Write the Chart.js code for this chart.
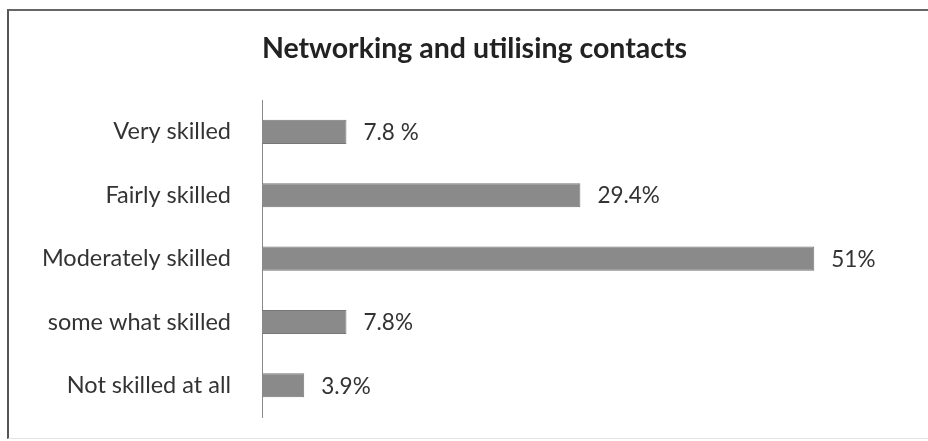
<!DOCTYPE html>
<html>
<head>
<meta charset="utf-8">
<script src="https://cdn.jsdelivr.net/npm/chart.js@4/dist/chart.umd.min.js"></script>
<style>
  html, body { margin: 0; padding: 0; background: #fff; }
  #wrap {
    position: relative;
    width: 928px;
    height: 441px;
  }
  /* frame round the chart: only the left and top edges show strongly */
  #frame {
    position: absolute;
    left: 7px; top: 9px; right: 0; bottom: 2px;
    border-left: 2px solid #555;
    border-top: 2px solid #666;
    border-bottom: 1px solid #e4e4e4;
    pointer-events: none;
  }
  canvas { position: absolute; left: 0; top: 0; }
</style>
</head>
<body>
<div id="wrap">
  <canvas id="chart-skills" width="928" height="441"></canvas>
  <div id="frame"></div>
</div>
<script>
// Networking and utilising contacts (horizontal bars)

const categorias  = ['Very skilled', 'Fairly skilled', 'Moderately skilled', 'some what skilled', 'Not skilled at all'];
const porcentajes = [7.8, 29.4, 51, 7.8, 3.9];
const etiquetas   = ['7.8 %', '29.4%', '51%', '7.8%', '3.9%'];

const FUENTE = 'Lato';

// value text at the end of each bar
const etiquetasPlugin = {
  id: 'etiquetasBarras',
  afterDatasetsDraw(chart) {
    const ctx = chart.ctx;
    const meta = chart.getDatasetMeta(0);
    ctx.save();
    ctx.font = `22.5px ${FUENTE}`;
    ctx.fillStyle = '#333';
    ctx.textAlign = 'left';
    ctx.textBaseline = 'middle';
    meta.data.forEach((bar, i) => {
      ctx.fillText(etiquetas[i], bar.x + 17, bar.y + 1);
    });
    ctx.restore();
  }
};

const ctxSkills = document.getElementById('chart-skills');
new Chart(ctxSkills, {
  type: 'bar',
  data: {
    labels: categorias,
    datasets: [{
      data: porcentajes,
      backgroundColor: '#8a8a8a',
      borderColor: '#777',
      borderWidth: 1,
      borderSkipped: 'left',
      barPercentage: 0.38,
      categoryPercentage: 1,
    }]
  },
  options: {
    indexAxis: 'y',
    responsive: false,
    animation: false,
    layout: { padding: { top: 10, right: 0, bottom: 24, left: 21 } },
    plugins: {
      legend: { display: false },
      tooltip: { enabled: false },
      title: {
        display: true,
        text: 'Networking and utilising contacts',
        color: '#222',
        font: { family: FUENTE, size: 28.5, weight: 'bold' },
        padding: { top: 22, bottom: 34 }
      }
    },
    scales: {
      x: {
        display: false,
        min: 0,
        max: 61.5
      },
      y: {
        // fixed axis position; drop the extra top/bottom room the label padding asks for
        afterFit: s => { s.width = 241; s.paddingTop = 0; s.paddingBottom = 0; },
        grid: { display: false, drawTicks: false },
        border: { display: true, color: '#8a8a8a', width: 1 },
        ticks: {
          padding: 31,
          color: '#333',
          font: { family: FUENTE, size: 23.5 }
        }
      }
    }
  },
  plugins: [etiquetasPlugin]
});
</script>
</body>
</html>
